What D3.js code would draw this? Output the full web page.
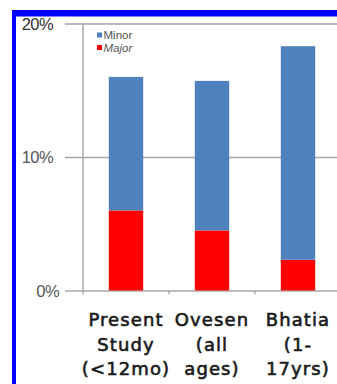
<!DOCTYPE html>
<html>
<head>
<meta charset="utf-8">
<script src="https://cdn.jsdelivr.net/npm/d3@7"></script>
<style>
  html, body { margin: 0; padding: 0; background: #fff; }
  svg { display: block; }
</style>
</head>
<body>
<svg id="chart" width="337" height="384"></svg>
<script>
// Complication rates by study: major and minor share of each bar
const categories = ["Present Study (<12mo)", "Ovesen (all ages)", "Bhatia (1-17yrs)"];
const categoryLines = [["Present", "Study", "(<12mo)"], ["Ovesen", "(all", "ages)"], ["Bhatia", "(1-", "17yrs)"]];
const majorValues = [6.0, 4.5, 2.3];
const minorValues = [10.0, 11.2, 16.0];
const yTicks = [0, 10, 20];
const seriesNames = ["Minor", "Major"];
const seriesColors = ["#4f81bd", "#ff0000"];

const svg = d3.select("#chart");

// frame in blue along the top and left edge
svg.append("rect").attr("x", 12).attr("y", 10).attr("width", 325).attr("height", 6.5).attr("fill", "#0000ff");
svg.append("rect").attr("x", 12).attr("y", 10).attr("width", 4).attr("height", 374).attr("fill", "#0000ff");

const plotLeft = 83, plotRight = 341;
const y = d3.scaleLinear().domain([0, 20]).range([290.5, 23.5]);
const x = d3.scaleBand().domain(categories).range([plotLeft, plotRight]).paddingInner(0.6).paddingOuter(0.3);

// horizontal gridlines, running left past the axis
const yAxis = d3.axisLeft(y).tickValues(yTicks).tickSize(0).tickFormat(d => d + "%");
const gy = svg.append("g").attr("transform", `translate(${plotLeft},0)`).call(yAxis);
gy.select(".domain").remove();
gy.selectAll(".tick text")
  .attr("x", d => d === 0 ? -24 : -30)
  .attr("dy", "0.36em")
  .attr("font-family", "Liberation Sans, Arial, sans-serif")
  .attr("font-size", 16.5)
  .attr("fill", d => d === 20 ? "#333" : "#555")
  .attr("letter-spacing", -0.6);
gy.selectAll(".tick").append("line")
  .attr("x1", 65 - plotLeft).attr("x2", 337 - plotLeft)
  .attr("stroke", "#a6a6a6").attr("stroke-width", 1.4);

// vertical axis line
svg.append("line").attr("x1", plotLeft).attr("x2", plotLeft).attr("y1", y(20)).attr("y2", y(0) + 4)
  .attr("stroke", "#a6a6a6").attr("stroke-width", 1.4);

// category divider ticks below the baseline
const step = x.step();
categories.forEach(c => {
  const bx = x(c) + x.bandwidth() / 2 + step / 2;
  svg.append("line").attr("x1", bx).attr("x2", bx).attr("y1", y(0)).attr("y2", y(0) + 4)
    .attr("stroke", "#a6a6a6").attr("stroke-width", 1.4);
});

// stacked bars
const stackData = categories.map((c, i) => ({ cat: c, Major: majorValues[i], Minor: minorValues[i] }));
const stack = d3.stack().keys(["Major", "Minor"])(stackData);
const colorOf = { Minor: seriesColors[0], Major: seriesColors[1] };
svg.append("g").selectAll("g").data(stack).join("g")
  .attr("fill", s => colorOf[s.key])
  .selectAll("rect").data(s => s).join("rect")
  .attr("x", d => x(d.data.cat))
  .attr("width", x.bandwidth())
  .attr("y", d => y(d[1]))
  .attr("height", d => y(d[0]) - y(d[1]));

// legend
const legend = svg.append("g").attr("transform", "translate(97,35)");
seriesNames.forEach((name, i) => {
  const g = legend.append("g").attr("transform", `translate(0,${i * 12.5})`);
  g.append("rect").attr("x", 0).attr("y", -2.5).attr("width", 5).attr("height", 5).attr("fill", seriesColors[i]);
  g.append("text").attr("x", 6.5).attr("y", 0).attr("dy", "0.35em")
    .attr("font-family", "Liberation Sans, Arial, sans-serif")
    .attr("font-size", 11.5).attr("font-style", i === 1 ? "italic" : "normal")
    .attr("fill", "#555").text(name);
});

// multi-line category labels
categories.forEach((c, i) => {
  const cx = x(c) + x.bandwidth() / 2;
  const t = svg.append("text").attr("text-anchor", "middle")
    .attr("font-family", "DejaVu Sans, Verdana, sans-serif")
    .attr("font-size", 18).attr("letter-spacing", 1.1)
    .attr("fill", "#1a1a1a")
    .attr("stroke", "#1a1a1a").attr("stroke-width", 0.6);
  categoryLines[i].forEach((line, j) => {
    t.append("tspan").attr("x", cx).attr("y", 326 + j * 24.5).text(line);
  });
});
</script>
</body>
</html>
